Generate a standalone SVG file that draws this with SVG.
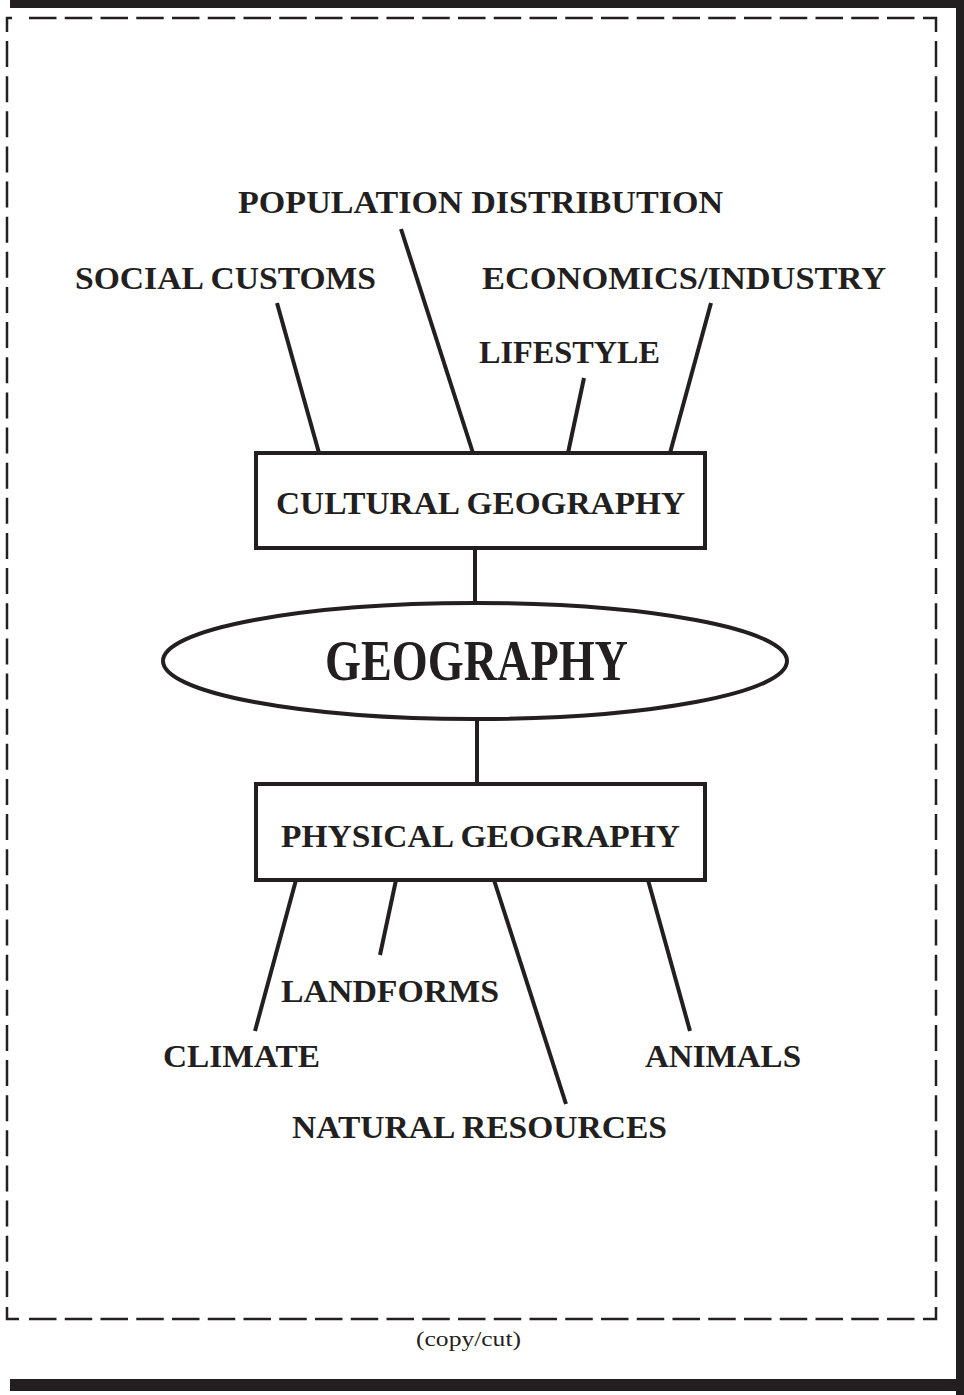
<svg xmlns="http://www.w3.org/2000/svg" width="964" height="1395" viewBox="0 0 964 1395">
<style>
.lbl{font-family:"Liberation Serif",serif;font-weight:bold;font-size:32px;fill:#231f20;}
.edge{stroke:#231f20;stroke-width:4;fill:none;}
.box{stroke:#231f20;stroke-width:4;fill:#fff;}
.cut{stroke:#231f20;stroke-width:2.5;fill:none;}
</style>
<rect width="964" height="1395" fill="#fff"/>
<g id="frame">
<rect x="10" y="0" width="954" height="8" fill="#231f20"/>
<rect x="956" y="0" width="8" height="1395" fill="#231f20"/>
<rect x="10" y="1379" width="954" height="12" fill="#231f20"/>
<path class="cut" d="M7,32 V18 H12 M923,18 H936 V32 M7,1307 V1319 H19 M923,1319 H936 V1307"/>
<line class="cut" x1="29" y1="18" x2="914.5" y2="18" stroke-dasharray="27.5 8.25"/>
<line class="cut" x1="29" y1="1319" x2="914.5" y2="1319" stroke-dasharray="27.5 8.25"/>
<line class="cut" x1="7" y1="41" x2="7" y2="1297" stroke-dasharray="26 9.14"/>
<line class="cut" x1="936" y1="41" x2="936" y2="1297" stroke-dasharray="26 9.14"/>
<text x="416" y="1346" textLength="105" lengthAdjust="spacingAndGlyphs" style="font-family:'Liberation Serif',serif;font-size:22px;fill:#231f20">(copy/cut)</text>
</g>
<g id="connectors">
<line class="edge" x1="277" y1="303" x2="319" y2="453"/>
<line class="edge" x1="401" y1="229" x2="473" y2="453"/>
<line class="edge" x1="584" y1="378" x2="568" y2="453"/>
<line class="edge" x1="711" y1="303" x2="670" y2="453"/>
<line class="edge" x1="475" y1="550" x2="475" y2="604"/>
<line class="edge" x1="477" y1="718" x2="477" y2="784"/>
<line class="edge" x1="296" y1="880" x2="255" y2="1031"/>
<line class="edge" x1="396" y1="880" x2="380" y2="955"/>
<line class="edge" x1="494" y1="880" x2="566" y2="1104"/>
<line class="edge" x1="648" y1="880" x2="690" y2="1031"/>
</g>
<g id="population"><text class="lbl" x="238" y="213" textLength="485" lengthAdjust="spacingAndGlyphs">POPULATION DISTRIBUTION</text></g>
<g id="social"><text class="lbl" x="75" y="289" textLength="301" lengthAdjust="spacingAndGlyphs">SOCIAL CUSTOMS</text></g>
<g id="economics"><text class="lbl" x="482" y="289" textLength="404" lengthAdjust="spacingAndGlyphs">ECONOMICS/INDUSTRY</text></g>
<g id="lifestyle"><text class="lbl" x="479" y="363" textLength="181" lengthAdjust="spacingAndGlyphs">LIFESTYLE</text></g>
<g id="cultural">
<rect class="box" x="256" y="453" width="449" height="95"/>
<text class="lbl" x="276" y="514" textLength="409" lengthAdjust="spacingAndGlyphs">CULTURAL GEOGRAPHY</text>
</g>
<g id="geography">
<ellipse class="box" cx="475" cy="661" rx="312" ry="58"/>
<text x="325" y="680" textLength="303" lengthAdjust="spacingAndGlyphs" style="font-family:'Liberation Serif',serif;font-weight:bold;font-size:56px;fill:#231f20">GEOGRAPHY</text>
</g>
<g id="physical">
<rect class="box" x="256" y="784" width="449" height="96"/>
<text class="lbl" x="281" y="847" textLength="399" lengthAdjust="spacingAndGlyphs">PHYSICAL GEOGRAPHY</text>
</g>
<g id="landforms"><text class="lbl" x="281" y="1002" textLength="218" lengthAdjust="spacingAndGlyphs">LANDFORMS</text></g>
<g id="climate"><text class="lbl" x="163" y="1067" textLength="157" lengthAdjust="spacingAndGlyphs">CLIMATE</text></g>
<g id="animals"><text class="lbl" x="645" y="1067" textLength="156" lengthAdjust="spacingAndGlyphs">ANIMALS</text></g>
<g id="resources"><text class="lbl" x="292" y="1138" textLength="375" lengthAdjust="spacingAndGlyphs">NATURAL RESOURCES</text></g>
</svg>
